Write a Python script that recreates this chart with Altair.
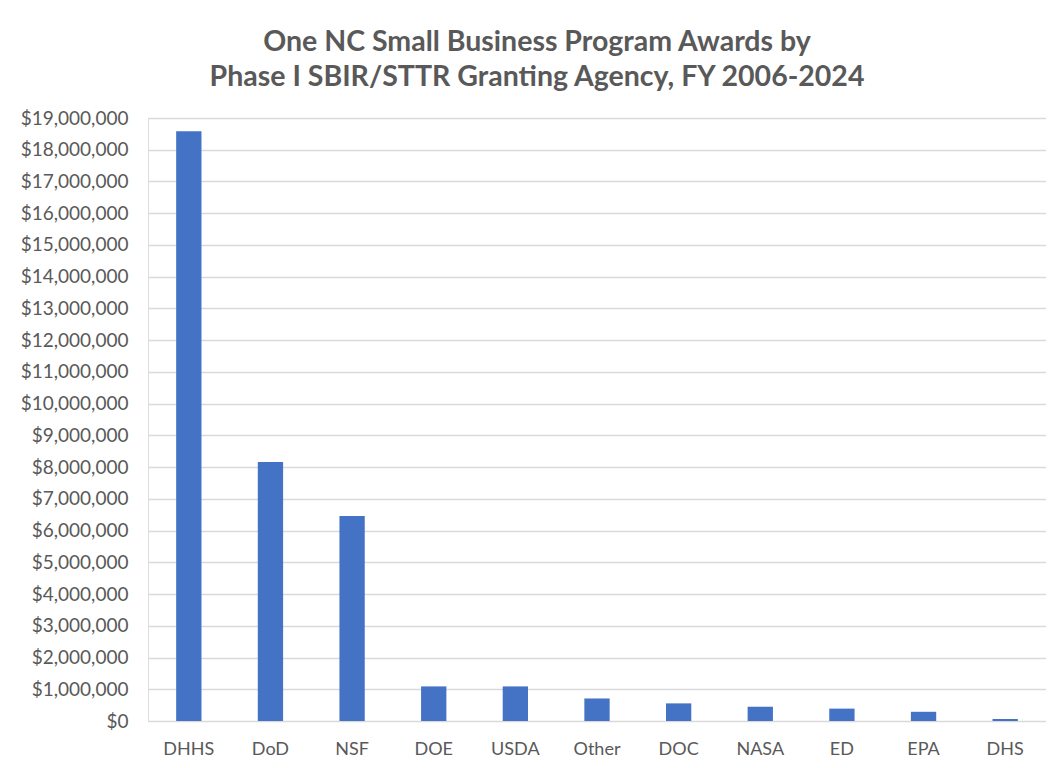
import altair as alt
import pandas as pd

agencies = ["DHHS", "DoD", "NSF", "DOE", "USDA", "Other", "DOC", "NASA", "ED", "EPA", "DHS"]
awards = [18580000, 8160000, 6460000, 1090000, 1090000, 710000, 555000, 450000, 390000, 290000, 63000]

df = pd.DataFrame({"agency": agencies, "award": awards})

bars = alt.Chart(df).mark_bar(color="#4472C4").encode(
    x=alt.X(
        "agency:N",
        sort=agencies,
        title=None,
        scale=alt.Scale(paddingInner=0.69, paddingOuter=0.345),
        axis=alt.Axis(labelAngle=0, labelFont="Lato", labelFontSize=18, labelColor="#595959",
                      labelPadding=19, domain=False, ticks=False),
    ),
    y=alt.Y(
        "award:Q",
        title=None,
        scale=alt.Scale(domain=[0, 19000000], nice=False),
        axis=alt.Axis(values=list(range(0, 19000001, 1000000)), format="$,.0f",
                      labelFont="Lato", labelFontSize=19, labelColor="#595959",
                      labelPadding=20, domain=False, ticks=False,
                      gridColor="#D9D9D9", gridWidth=1.3),
    ),
)

chart = bars.properties(
    width=898,
    height=603,
    autosize=alt.AutoSizeParams(type="none"),
    padding={"left": 140, "top": 110, "right": 0, "bottom": 39},
    title=alt.TitleParams(
        text=["One NC Small Business Program Awards by", "Phase I SBIR/STTR Granting Agency, FY 2006-2024"],
        font="Lato", fontSize=28.5, fontWeight="bold", color="#595959",
        lineHeight=35, anchor="middle", dx=-60, offset=18,
    ),
).configure_view(stroke=None).configure(background="white")

chart.save("out.html", embed_options={"renderer": "svg", "actions": False})
